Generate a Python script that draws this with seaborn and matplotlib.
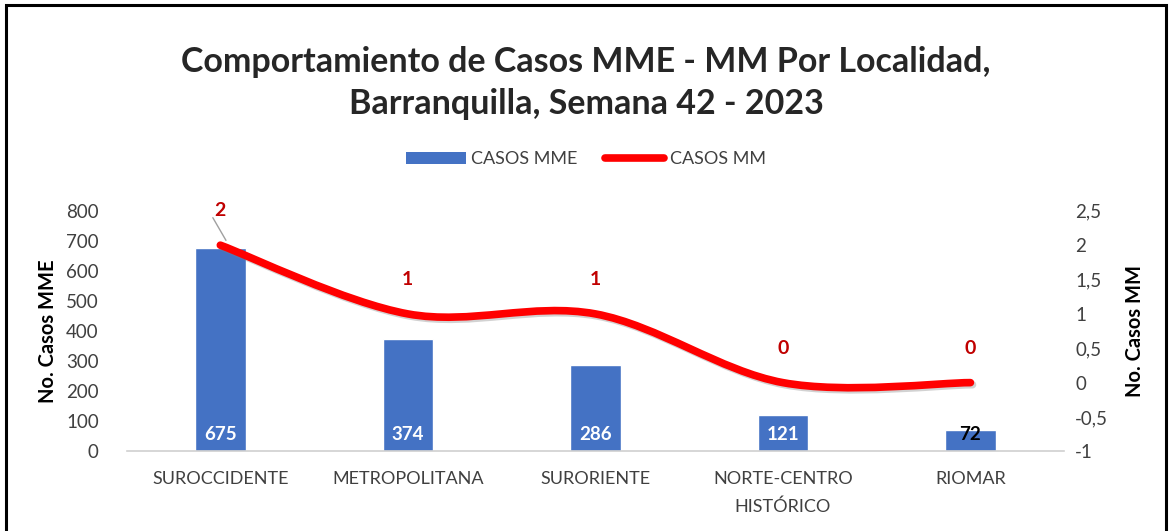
import numpy as np
import pandas as pd
import seaborn as sns
import matplotlib
matplotlib.use('Agg')
from matplotlib import pyplot as plt
from matplotlib.path import Path
from matplotlib.patches import PathPatch, Rectangle, Patch
from matplotlib.lines import Line2D
import matplotlib.patheffects as pe

localidades = ['SUROCCIDENTE', 'METROPOLITANA', 'SURORIENTE', 'NORTE-CENTRO\nHISTÓRICO', 'RIOMAR']
casos_mme = [675, 374, 286, 121, 72]
casos_mm = [2, 1, 1, 0, 0]
left_ticks = [0, 100, 200, 300, 400, 500, 600, 700, 800]
right_ticks = [-1, -0.5, 0, 0.5, 1, 1.5, 2, 2.5]

BLUE = '#4472C4'
RED = '#FF0000'
DARKRED = '#C00000'
TXT = '#404040'


def smooth_path(xs, ys):
    # curva suavizada tipo Excel (Catmull-Rom -> Bezier)
    pts = np.column_stack([xs, ys]).astype(float)
    ext = np.vstack([pts[0], pts, pts[-1]])
    verts = [tuple(pts[0])]
    codes = [Path.MOVETO]
    for i in range(1, len(ext) - 2):
        p0, p1, p2, p3 = ext[i - 1], ext[i], ext[i + 1], ext[i + 2]
        c1 = p1 + (p2 - p0) / 6
        c2 = p2 - (p3 - p1) / 6
        verts += [tuple(c1), tuple(c2), tuple(p2)]
        codes += [Path.CURVE4] * 3
    return Path(verts, codes)


def main():
    sns.set_style('white')
    plt.rcParams['font.family'] = ['Lato', 'DejaVu Sans']

    df = pd.DataFrame({'localidad': localidades, 'mme': casos_mme, 'mm': casos_mm})

    fig = plt.figure(figsize=(11.72, 5.31), dpi=100)
    ax = fig.add_axes([0.108, 0.15, 0.8, 0.453])

    sns.barplot(data=df, x='localidad', y='mme', color=BLUE, width=0.27, ax=ax, saturation=1)
    ax.set_xlim(-0.5, 4.5)
    ax.set_ylim(0, 800)
    ax.set_yticks(left_ticks)
    ax.set_yticklabels([str(t) for t in left_ticks])
    ax.set_xlabel('')
    ax.set_ylabel('No. Casos MME', fontsize=14.5, fontweight='bold', color='black', labelpad=6)
    ax.tick_params(axis='y', length=0, labelsize=13.5, labelcolor=TXT, pad=20)
    ax.tick_params(axis='x', length=0, labelsize=13, labelcolor=TXT, pad=14)
    for lbl in ax.get_xticklabels():
        lbl.set_linespacing(1.9)
    for s in ['top', 'right', 'left']:
        ax.spines[s].set_visible(False)
    ax.spines['bottom'].set_color('#d0d0d0')
    ax.spines['bottom'].set_linewidth(1.2)

    for i, v in enumerate(casos_mme):
        col = 'white' if v > 100 else 'black'
        ax.text(i, 28, str(v), ha='center', va='bottom', color=col,
                fontsize=13.5, fontweight='bold')

    ax2 = ax.twinx()
    ax2.set_ylim(-1, 2.5)
    ax2.set_yticks(right_ticks)
    ax2.set_yticklabels([f'{t:g}'.replace('.', ',') for t in right_ticks])
    ax2.tick_params(axis='y', length=0, labelsize=13.5, labelcolor=TXT, pad=8)
    ax2.set_ylabel('No. Casos MM', fontsize=14.5, fontweight='bold', color='black', labelpad=12)
    for s in ax2.spines.values():
        s.set_visible(False)

    path = smooth_path(np.arange(len(casos_mm)), casos_mm)
    patch = PathPatch(path, fill=False, edgecolor=RED, linewidth=5.5, capstyle='round',
                      path_effects=[pe.SimpleLineShadow(offset=(1.5, -1.5), shadow_color='gray', alpha=0.35),
                                    pe.Normal()])
    ax2.add_patch(patch)

    for i, v in enumerate(casos_mm):
        ax2.text(i, v + 0.38, str(v), ha='center', va='bottom', color=DARKRED,
                 fontsize=14, fontweight='bold')
    ax2.plot([-0.04, 0.03], [2.4, 2.07], color='#a0a0a0', linewidth=1)

    fig.text(0.5, 0.883, 'Comportamiento de Casos MME - MM Por Localidad,',
             ha='center', va='center', fontsize=24.5, fontweight='bold')
    fig.text(0.5, 0.805, 'Barranquilla, Semana 42 - 2023',
             ha='center', va='center', fontsize=24.5, fontweight='bold')

    handles = [Patch(facecolor=BLUE, edgecolor='none'),
               Line2D([0], [0], color=RED, linewidth=5.5, solid_capstyle='round')]
    fig.legend(handles, ['CASOS MME', 'CASOS MM'], loc='center', bbox_to_anchor=(0.5, 0.70),
               ncol=2, frameon=False, fontsize=13, handlelength=3.3, handletextpad=0.3,
               columnspacing=1.5, labelcolor=TXT)

    fig.add_artist(Rectangle((0.005, -0.02), 0.99, 1.01, transform=fig.transFigure,
                             fill=False, edgecolor='black', linewidth=2.2))

    fig.savefig('out.png', dpi=100)


if __name__ == '__main__':
    main()
